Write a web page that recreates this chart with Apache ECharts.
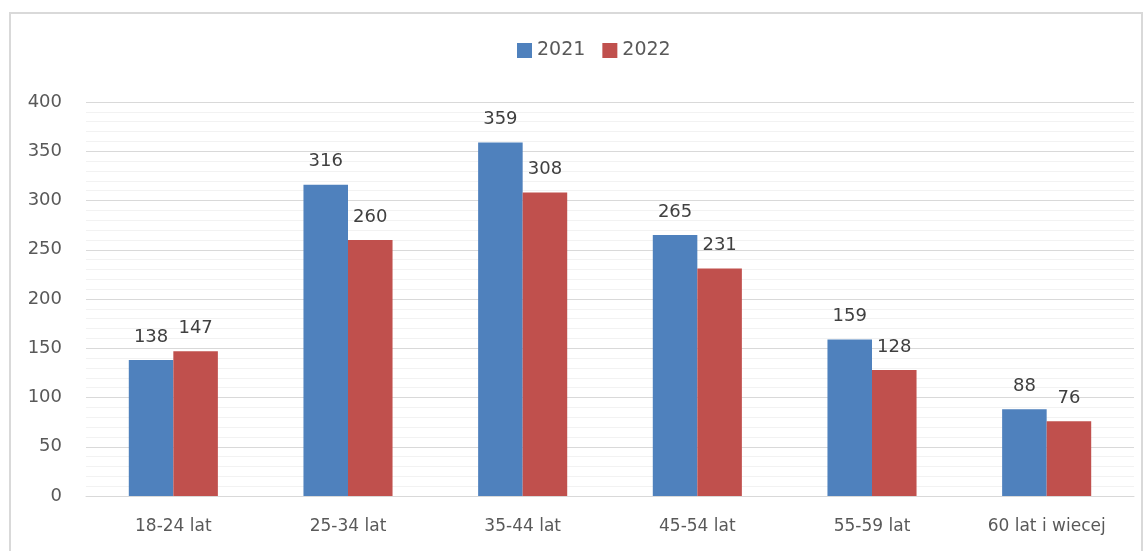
<!DOCTYPE html>
<html>
<head>
<meta charset="utf-8">
<script src="https://cdn.jsdelivr.net/npm/echarts@6/dist/echarts.min.js"></script>
<style>
    html, body {
        margin: 0;
        padding: 0;
        background: #fff;
    }
    .frame {
        position: absolute;
        left: 9px;
        top: 12px;
        width: 1130px;
        height: 545px;
        border: 2px solid #d9d9d9;
    }
    #chart {
        position: absolute;
        left: 0;
        top: 0;
        width: 1147px;
        height: 551px;
    }
</style>
</head>
<body>
<div class="frame"></div>
<div id="chart"></div>
<script>
// kategorie wiekowe
const categories = ['18-24 lat', '25-34 lat', '35-44 lat', '45-54 lat', '55-59 lat', '60 lat i wiecej']
// wartości dla lat
const values2021 = [138, 316, 359, 265, 159, 88]
const values2022 = [147, 260, 308, 231, 128, 76]
// podpisy osi Y
const yTicks = [0, 50, 100, 150, 200, 250, 300, 350, 400]

const font = 'DejaVu Sans, Verdana, sans-serif'

let chart = echarts.init(document.getElementById('chart'))

chart.setOption({
    animation: false,
    legend: {
        top: 36,
        left: 512,
        itemWidth: 15,
        itemHeight: 15,
        itemGap: 17,
        icon: 'rect',
        textStyle: {
            fontFamily: font,
            fontSize: 19,
            color: '#595959'
        },
        data: ['2021', '2022']
    },
    grid: {
        left: 86,
        right: 13,
        top: 102,
        bottom: 55
    },
    xAxis: {
        type: 'category',
        data: categories,
        axisTick: { show: false },
        axisLine: { lineStyle: { color: '#d9d9d9', width: 1 } },
        axisLabel: {
            fontFamily: font,
            fontSize: 17,
            color: '#595959',
            margin: 22
        }
    },
    yAxis: {
        type: 'value',
        min: yTicks[0],
        max: yTicks[yTicks.length - 1],
        interval: 50,
        axisLine: { show: false },
        axisTick: { show: false },
        axisLabel: {
            fontFamily: font,
            fontSize: 18,
            color: '#595959',
            margin: 24
        },
        splitLine: { lineStyle: { color: '#d9d9d9', width: 1 } },
        minorTick: { show: false, splitNumber: 5 },
        minorSplitLine: { show: true, lineStyle: { color: '#f2f2f2', width: 1 } }
    },
    series: [
        {
            name: '2021',
            type: 'bar',
            data: values2021,
            barGap: '0%',
            barCategoryGap: '49%',
            itemStyle: { color: '#4f81bd' },
            label: {
                show: true,
                position: 'top',
                distance: 14,
                fontFamily: font,
                fontSize: 18,
                color: '#404040'
            }
        },
        {
            name: '2022',
            type: 'bar',
            data: values2022,
            itemStyle: { color: '#c0504d' },
            label: {
                show: true,
                position: 'top',
                distance: 14,
                fontFamily: font,
                fontSize: 18,
                color: '#404040'
            }
        }
    ]
})
</script>
</body>
</html>
